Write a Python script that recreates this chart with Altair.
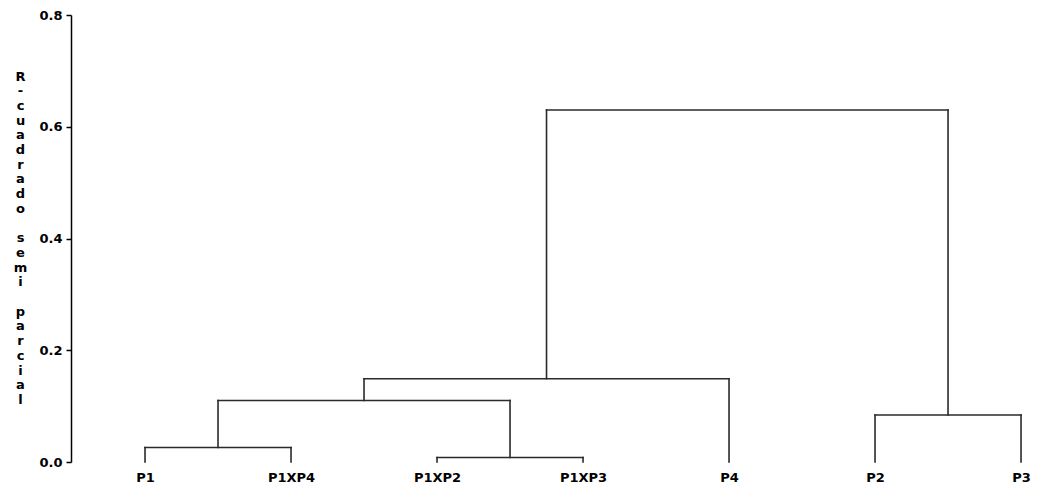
import altair as alt
import pandas as pd

# Leaves in dendrogram order
leaves = ["P1", "P1XP4", "P1XP2", "P1XP3", "P4", "P2", "P3"]

# Merges: left member, right member, height (semi-partial R-squared)
merge_left = ["P1", "P1XP2", "C1", "C3", "P2", "C4"]
merge_right = ["P1XP4", "P1XP3", "C2", "P4", "P3", "C5"]
merge_height = [0.026, 0.008, 0.110, 0.149, 0.084, 0.630]

y_ticks = [0.0, 0.2, 0.4, 0.6, 0.8]
y_title = "R-cuadrado semi parcial"

# Build dendrogram segments from the merge structure
pos = {name: i for i, name in enumerate(leaves)}
hgt = {name: 0.0 for name in leaves}
rows = []
for i, (l, r, h) in enumerate(zip(merge_left, merge_right, merge_height)):
    xl, xr = pos[l], pos[r]
    rows.append({"x": xl, "x2": xl, "y": hgt[l], "y2": h})
    rows.append({"x": xr, "x2": xr, "y": hgt[r], "y2": h})
    rows.append({"x": xl, "x2": xr, "y": h, "y2": h})
    cname = f"C{i + 1}"
    pos[cname] = (xl + xr) / 2
    hgt[cname] = h
segs = pd.DataFrame(rows)

font = "DejaVu Sans"
label_expr = "[" + ",".join(f"'{s}'" for s in leaves) + "][datum.value]"
# stacked vertical title; blank lines use a blank glyph so they keep their height
title_lines = [c if c != " " else "\u2800" for c in y_title]

x_scale = alt.Scale(domain=[-0.507, 6.082], nice=False, zero=False)
y_scale = alt.Scale(domain=[0, 0.8], nice=False)

chart = (
    alt.Chart(segs)
    .mark_rule(color="#2a2a2a", strokeWidth=1.6, strokeCap="square")
    .encode(
        x=alt.X(
            "x:Q",
            scale=x_scale,
            axis=alt.Axis(
                values=list(range(len(leaves))),
                labelExpr=label_expr,
                title=None,
                domain=False,
                ticks=False,
                grid=False,
                labelFont=font,
                labelFontSize=13,
                labelFontWeight="bold",
                labelColor="black",
                labelPadding=9,
                labelFlush=False,
            ),
        ),
        x2="x2:Q",
        y=alt.Y(
            "y:Q",
            scale=y_scale,
            axis=alt.Axis(
                values=y_ticks,
                format=".1f",
                title=title_lines,
                titleAngle=0,
                titleAlign="center",
                titleBaseline="top",
                titleX=-51,
                titleY=55,
                titleLineHeight=14.7,
                titleFont=font,
                titleFontSize=13,
                titleFontWeight="bold",
                titleColor="black",
                grid=False,
                domainColor="black",
                domainWidth=1.5,
                tickColor="black",
                tickWidth=1.5,
                tickSize=5,
                labelPadding=4,
                labelFont=font,
                labelFontSize=13,
                labelFontWeight="bold",
                labelColor="black",
                labelFlush=False,
            ),
        ),
        y2="y2:Q",
    )
    .properties(
        width=962,
        height=447,
        background="white",
        autosize=alt.AutoSizeParams(type="none"),
        padding={"left": 63, "top": 7, "right": 0, "bottom": 27},
    )
    .configure_view(stroke=None)
)

chart.save("out.html", embed_options={"renderer": "svg", "actions": False})
